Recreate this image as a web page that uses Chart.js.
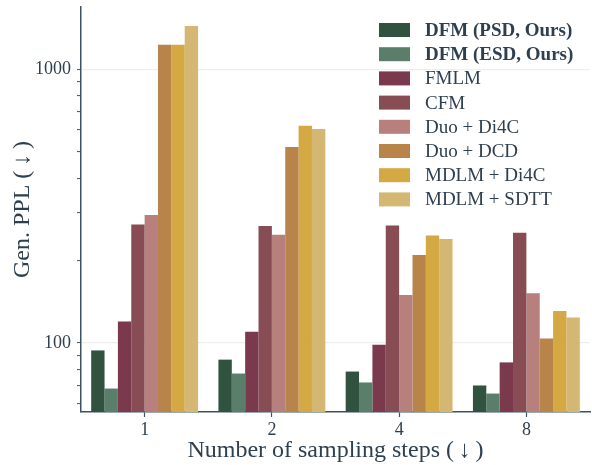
<!DOCTYPE html>
<html>
<head>
<meta charset="utf-8">
<script src="https://cdn.jsdelivr.net/npm/chart.js@4.4.1/dist/chart.umd.min.js"></script>
<style>
  html, body { margin: 0; padding: 0; background: #fff; }
  #wrap { position: relative; width: 592px; height: 465px; }
</style>
</head>
<body>
<div id="wrap"><canvas id="chart"></canvas></div>
<script>
const STEPS = ['1', '2', '4', '8'];

const SERIES_NAMES = [
  'DFM (PSD, Ours)', 'DFM (ESD, Ours)', 'FMLM', 'CFM',
  'Duo + Di4C', 'Duo + DCD', 'MDLM + Di4C', 'MDLM + SDTT'
];

const SERIES_COLORS = [
  '#30523f', '#5b7e6a', '#7a394c', '#884d54',
  '#b7807d', '#b8844a', '#d4a843', '#d4b772'
];

// Gen. PPL per method, one value per step count (1, 2, 4, 8)
const DFM_PSD   = [94, 87, 78.7, 70];
const DFM_ESD   = [68.2, 77.4, 71.8, 65.4];
const FMLM      = [120, 110, 98.7, 85];
const CFM       = [271, 268, 269, 253];
const DUO_DI4C  = [294, 249, 150, 152];
const DUO_DCD   = [1231, 521, 210, 104];
const MDLM_DI4C = [1231, 622, 247, 131];
const MDLM_SDTT = [1441, 606, 240, 124];

const SERIES_VALUES = [DFM_PSD, DFM_ESD, FMLM, CFM, DUO_DI4C, DUO_DCD, MDLM_DI4C, MDLM_SDTT];

const Y_TICKS = [60, 70, 80, 90, 100, 200, 300, 400, 500, 600, 700, 800, 900, 1000];
const Y_LABELED = [100, 1000];

const TEXT = '#2e3f4f';
const AXIS = '#3f5263';
const SERIF = '"Liberation Serif", "DejaVu Serif", serif';

// legend drawn inside the plot, top right, like the original figure
const legendInside = {
  id: 'legendInside',
  afterDraw(chart) {
    const ctx = chart.ctx;
    ctx.save();
    chart.data.datasets.forEach((ds, i) => {
      const cy = 30 + i * 24.2;
      ctx.fillStyle = ds.backgroundColor;
      ctx.fillRect(379, cy - 7, 31, 14);
      ctx.fillStyle = TEXT;
      ctx.font = (i < 2 ? 'bold ' : '') + '19px ' + SERIF;
      ctx.textBaseline = 'middle';
      ctx.textAlign = 'left';
      ctx.fillText(ds.label, 425, cy + 1);
    });
    ctx.restore();
  }
};

// no extra edge padding from (empty) end tick labels
function noEdgePadding(s) {
  s.paddingTop = 0;
  s.paddingBottom = 0;
  s.paddingLeft = 0;
  s.paddingRight = 0;
}

const datasets = SERIES_NAMES.map((name, i) => ({
  label: name,
  data: SERIES_VALUES[i],
  backgroundColor: SERIES_COLORS[i],
  borderWidth: 0,
  categoryPercentage: 0.84,
  barPercentage: 1.0
}));

new Chart(document.getElementById('chart'), {
  type: 'bar',
  data: { labels: STEPS, datasets },
  plugins: [legendInside],
  options: {
    responsive: true,
    maintainAspectRatio: false,
    animation: false,
    layout: { padding: { top: 7, right: 2, left: 0, bottom: 0 } },
    plugins: {
      legend: { display: false },
      tooltip: { enabled: false }
    },
    scales: {
      x: {
        grid: { display: true, offset: false, color: 'transparent', tickColor: AXIS, tickLength: 5, tickWidth: 1.2 },
        border: { color: AXIS, width: 1.5 },
        ticks: { color: TEXT, font: { family: SERIF, size: 18 }, padding: 2 },
        title: {
          display: true,
          text: 'Number of sampling steps (\u2009↓\u2009)',
          color: TEXT,
          font: { family: SERIF, size: 24 },
          padding: { top: 0, bottom: 0 }
        },
        afterFit: s => { noEdgePadding(s); s.height = 53; }
      },
      y: {
        type: 'logarithmic',
        min: 56,
        max: 1690,
        afterBuildTicks: s => { s.ticks = Y_TICKS.map(v => ({ value: v })); },
        grid: {
          color: c => (c.tick && Y_LABELED.includes(c.tick.value)) ? '#eeeeee' : 'transparent',
          lineWidth: 1.2,
          tickColor: AXIS,
          tickLength: 4,
          tickWidth: 1
        },
        border: { color: AXIS, width: 1.5 },
        ticks: {
          autoSkip: false,
          color: TEXT,
          font: { family: SERIF, size: 18 },
          padding: 6,
          callback: v => Y_LABELED.includes(v) ? String(v) : ''
        },
        title: {
          display: true,
          text: 'Gen. PPL (\u2009↓\u2009)',
          color: TEXT,
          font: { family: SERIF, size: 24 },
          padding: { top: 8, bottom: 0 }
        },
        afterFit: s => { noEdgePadding(s); s.width = 81; }
      }
    }
  }
});
</script>
</body>
</html>
